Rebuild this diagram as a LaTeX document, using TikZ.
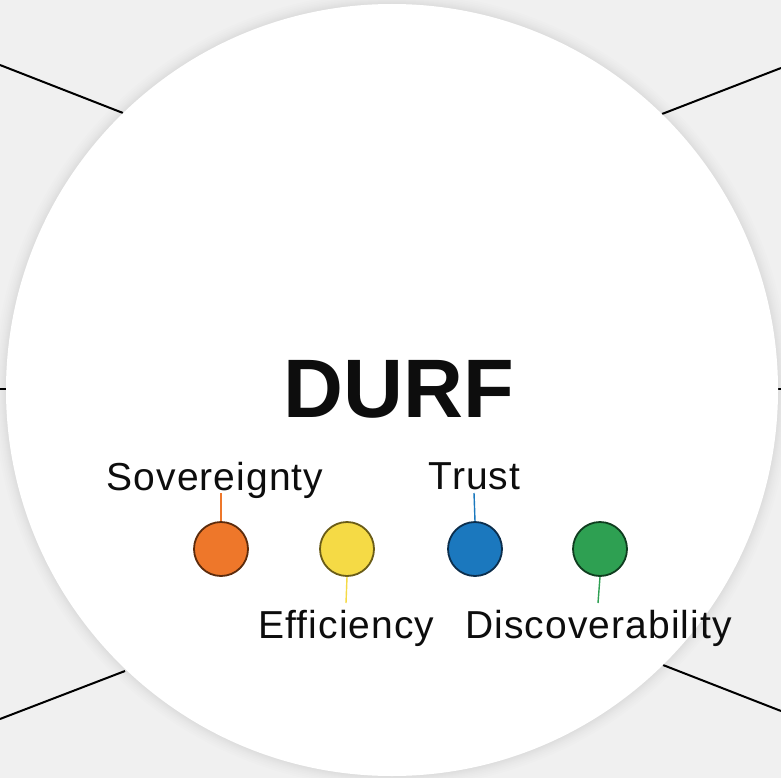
\documentclass[tikz,border=0pt]{standalone}
\usepackage{fontspec}
\setmainfont{Liberation Sans}
\newfontfamily\lblfont[LetterSpace=2.8]{Liberation Sans}
\begin{document}
\begin{tikzpicture}[x=1pt,y=-1pt,
  conn/.style={line width=2pt,black},
  dotnode/.style={circle,minimum size=54pt,inner sep=0pt,line width=1.8pt},
  lbl/.style={font=\lblfont\fontsize{39}{39}\selectfont,inner sep=0pt,anchor=base,text=black!95},
  stem/.style={line width=1.4pt}]
\definecolor{bg}{HTML}{F0F0F0}
\definecolor{orfill}{HTML}{EE772A}\definecolor{ordraw}{HTML}{5C2B0C}
\definecolor{yefill}{HTML}{F5DA45}\definecolor{yedraw}{HTML}{6A5C17}
\definecolor{blfill}{HTML}{1B78BE}\definecolor{bldraw}{HTML}{0C2E4C}
\definecolor{grfill}{HTML}{2EA052}\definecolor{grdraw}{HTML}{0F3D1F}
\fill[bg] (0,0) rectangle (781,778);
\useasboundingbox (0,0) rectangle (781,778);
% outside connectors
\coordinate (tlA) at (0,65);   \coordinate (tlB) at (123,113);
\coordinate (trA) at (781,68); \coordinate (trB) at (662,114);
\coordinate (blA) at (0,719);  \coordinate (blB) at (125,671);
\coordinate (brA) at (781,711);\coordinate (brB) at (663,665);
\coordinate (lA) at (0,389);   \coordinate (lB) at (8,389);
\coordinate (rA) at (781,389); \coordinate (rB) at (776,389);
\draw[conn] (tlA) -- (tlB);
\draw[conn] (trA) -- (trB);
\draw[conn] (blA) -- (blB);
\draw[conn] (brA) -- (brB);
\draw[conn] (lA) -- (lB);
\draw[conn] (rA) -- (rB);
% soft shadow
\foreach \w in {24,20,16,13,10,8,6,4,2}
  \draw[black,opacity=0.006,line width=\w pt] (392,390) circle (386);
\node[circle,fill=white,minimum size=772pt,inner sep=0pt] (main) at (392,390) {};
\node[font=\fontsize{83}{83}\selectfont\bfseries,inner sep=0pt,anchor=base,text=black!95] (title) at (399,417) {DURF};
% dots
\node[dotnode,fill=orfill,draw=ordraw] (d1) at (221,549) {};
\node[dotnode,fill=yefill,draw=yedraw] (d2) at (347,549) {};
\node[dotnode,fill=blfill,draw=bldraw] (d3) at (475,549) {};
\node[dotnode,fill=grfill,draw=grdraw] (d4) at (600,549) {};
% labels
\node[lbl] (l1) at (215,490) {Sovereignty};
\node[lbl] (l3) at (474.5,489) {Trust};
\node[lbl] (l2) at (346.5,638) {Efficiency};
\node[lbl] (l4) at (598.5,638) {Discoverability};
% stems
\coordinate (s1) at (221,493);
\coordinate (s3) at (474,493);
\coordinate (s2) at (346,603);
\coordinate (s4) at (598,603);
\draw[stem,orfill] (d1.north) -- (s1);
\draw[stem,blfill] (d3.north) -- (s3);
\draw[stem,yefill] (d2.south) -- (s2);
\draw[stem,grfill] (d4.south) -- (s4);
\end{tikzpicture}
\end{document}
